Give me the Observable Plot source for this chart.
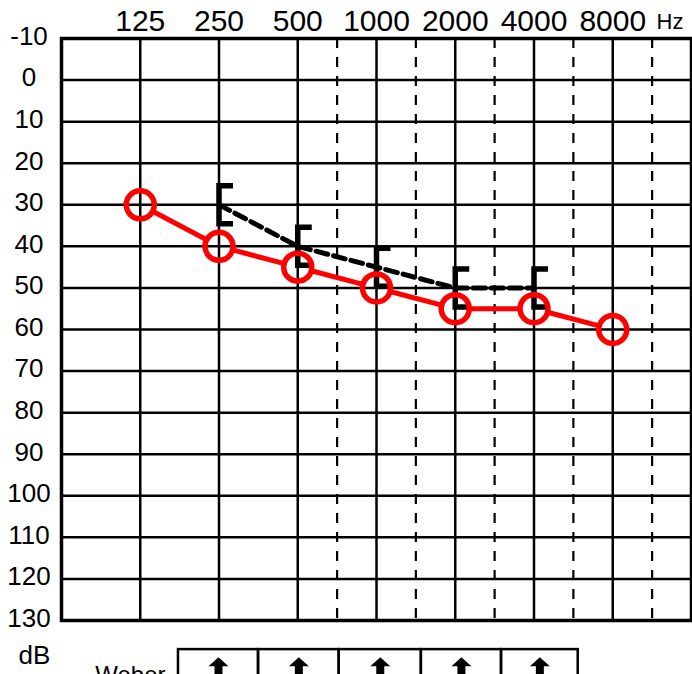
<!DOCTYPE html>
<html><head><meta charset="utf-8">
<script src="https://cdn.jsdelivr.net/npm/d3@7"></script>
<script src="https://cdn.jsdelivr.net/npm/@observablehq/plot@0.6"></script>
<style>body{margin:0;background:#fff} svg{display:block}</style>
</head><body><div id="chart"></div>
<script>
// ---- data ----
const freqs = [125, 250, 500, 1000, 2000, 4000, 8000];
const freqLabels = ["125", "250", "500", "1000", "2000", "4000", "8000"];
const interOctave = [707, 1414, 2828, 5657, 11314];
const dbTicks = [-10, 0, 10, 20, 30, 40, 50, 60, 70, 80, 90, 100, 110, 120, 130];
const airDb = [30, 40, 45, 50, 55, 55, 60];
const boneFreqs = [250, 500, 1000, 2000, 4000];
const boneDb = [30, 40, 45, 50, 50];
const weberEdges = [175, 354, 720, 1484, 3005, 5903];

// ---- derived tables ----
const air = freqs.map((f, i) => ({f, db: airDb[i]}));
const bone = boneFreqs.map((f, i) => ({f, db: boneDb[i]}));
const airSegs = d3.pairs(air).map(([a, b]) => ({x1: a.f, y1: a.db, x2: b.f, y2: b.db}));
const weberCells = d3.pairs(weberEdges).map(([a, b]) => ({x1: a, x2: b, xc: Math.sqrt(a * b)}));

// symbols
const bracket = {draw(ctx) { ctx.moveTo(14, -19); ctx.lineTo(0, -19); ctx.lineTo(0, 19); ctx.lineTo(14, 19); }};
const upArrow = {draw(ctx) {
  ctx.moveTo(0, -9); ctx.lineTo(10, 0); ctx.lineTo(4, 0); ctx.lineTo(4, 20);
  ctx.lineTo(-4, 20); ctx.lineTo(-4, 0); ctx.lineTo(-10, 0); ctx.closePath();
}};

const chart = Plot.plot({
  width: 692, height: 674,
  marginLeft: 61, marginRight: 1, marginTop: 38, marginBottom: 54,
  x: {type: "log", base: 2, domain: [62.5, 16000], axis: null},
  y: {domain: [-10, 130], reverse: true, axis: null},
  style: {fontFamily: "'Liberation Sans', Arial, sans-serif", background: "white", color: "black", overflow: "visible"},
  marks: [
    Plot.ruleY(dbTicks, {y: d => d, stroke: "black", strokeWidth: 2.5}),
    Plot.ruleX(freqs, {x: d => d, stroke: "black", strokeWidth: 2.5}),
    Plot.ruleX(interOctave, {x: d => d, stroke: "black", strokeWidth: 2.2, strokeDasharray: "10,9"}),
    Plot.frame({stroke: "black", strokeWidth: 3.5}),
    Plot.line(bone, {x: "f", y: "db", stroke: "black", strokeWidth: 5, strokeDasharray: "12,6"}),
    Plot.dot(bone, {x: "f", y: "db", symbol: bracket, stroke: "black", strokeWidth: 5.5, fill: "none", strokeLinejoin: "miter", strokeLinecap: "butt"}),
    Plot.arrow(airSegs, {x1: "x1", y1: "y1", x2: "x2", y2: "y2", stroke: "#ff0000", strokeWidth: 5, headLength: 0, inset: 14, strokeLinecap: "butt"}),
    Plot.dot(air, {x: "f", y: "db", r: 14, stroke: "#ff0000", strokeWidth: 5.5, fill: "none"}),
    // axis labels
    Plot.text(freqs, {x: d => d, text: (d, i) => freqLabels[i], frameAnchor: "top", lineAnchor: "bottom", dy: -8, fontSize: 30}),
    Plot.text(["Hz"], {text: d => d, frameAnchor: "top-right", textAnchor: "end", lineAnchor: "bottom", dx: -8, dy: -10, fontSize: 22}),
    Plot.text(dbTicks, {y: d => d, text: d => String(d), frameAnchor: "left", textAnchor: "middle", lineAnchor: "middle", dx: -32.5, dy: -2, fontSize: 26}),
    Plot.text(["dB"], {text: d => d, frameAnchor: "bottom-left", textAnchor: "middle", lineAnchor: "middle", dx: -27, dy: 35, fontSize: 26}),
    // Weber row
    Plot.rect(weberCells, {x1: "x1", x2: "x2", y1: 137, y2: 150, stroke: "black", strokeWidth: 2.5, fill: "none"}),
    Plot.dot(weberCells, {x: "xc", y: 141, symbol: upArrow, fill: "black", stroke: "none"}),
    Plot.text(["Weber"], {text: d => d, frameAnchor: "bottom-left", textAnchor: "end", lineAnchor: "bottom", dx: 104, dy: 62, fontSize: 24})
  ]
});
document.getElementById("chart").appendChild(chart);
</script>
</body></html>
